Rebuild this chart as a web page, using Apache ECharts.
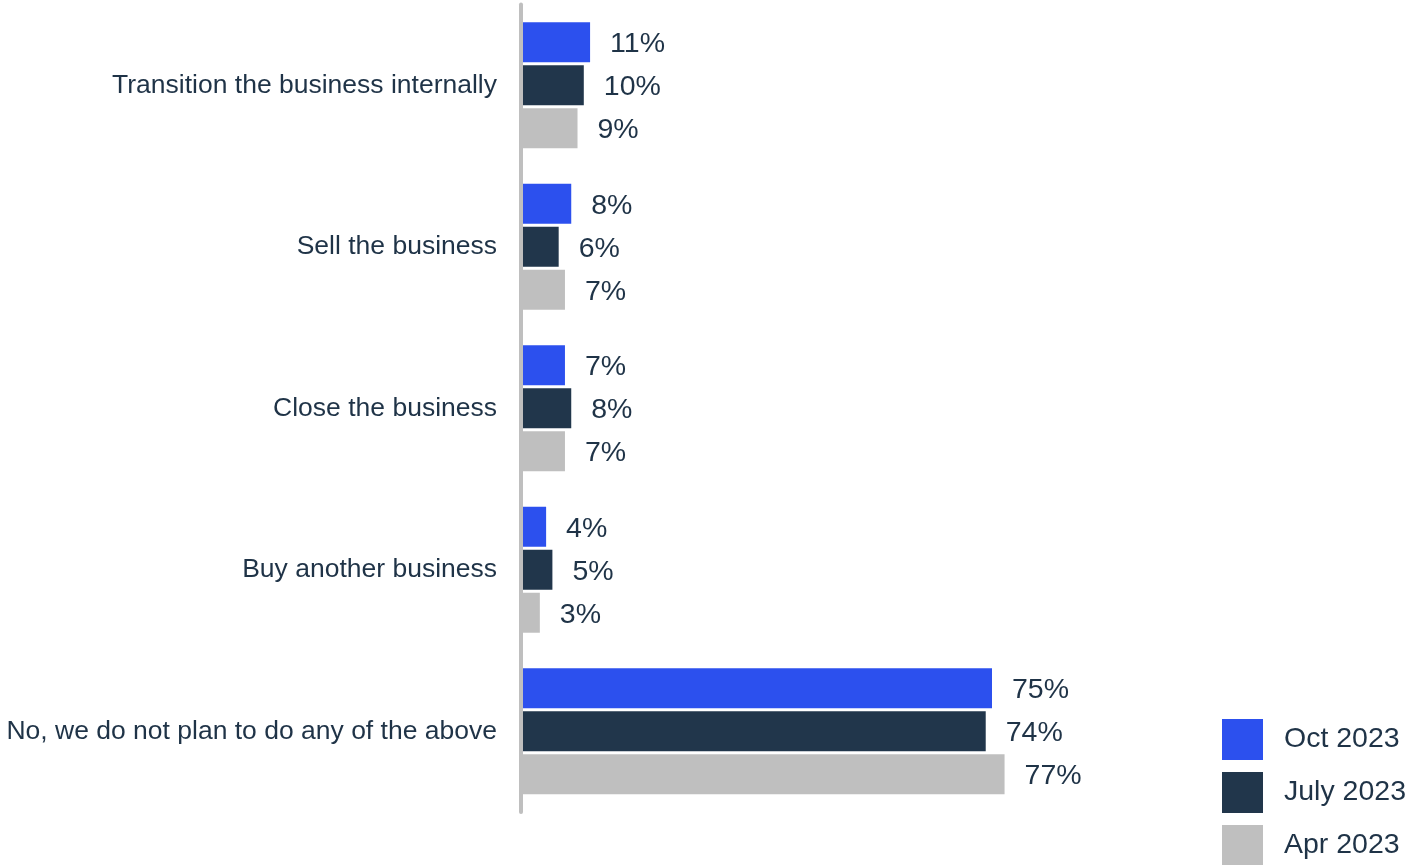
<!DOCTYPE html>
<html>
<head>
<meta charset="utf-8">
<script src="https://cdn.jsdelivr.net/npm/echarts@6/dist/echarts.min.js"></script>
<style>
  html, body { margin: 0; padding: 0; background: #ffffff; }
  #chart { width: 1406px; height: 865px; }
</style>
</head>
<body>
<div id="chart"></div>
<script>
// Plans for the business over the next period, by survey wave (percent of respondents)
const categories = [
  'Transition the business internally',
  'Sell the business',
  'Close the business',
  'Buy another business',
  'No, we do not plan to do any of the above'
];
const seriesNames = ['Oct 2023', 'July 2023', 'Apr 2023'];
const oct2023 = [11, 8, 7, 4, 75];
const july2023 = [10, 6, 8, 5, 74];
const apr2023 = [9, 7, 7, 3, 77];

const colors = ['#2c50ee', '#21364b', '#bfbfbf'];
const textColor = '#1f3347';
const fontFamily = '"Liberation Sans", Arial, Helvetica, sans-serif';

const chart = echarts.init(document.getElementById('chart'));

function barSeries(name, data, color) {
  return {
    name: name,
    type: 'bar',
    data: data,
    barCategoryGap: '22%',
    barGap: '7.5%',
    itemStyle: { color: color },
    label: {
      show: true,
      position: 'right',
      distance: 20,
      offset: [0, 2],
      formatter: '{c}%',
      color: textColor,
      fontSize: 28.5,
      fontFamily: fontFamily
    }
  };
}

chart.setOption({
  animation: false,
  backgroundColor: '#ffffff',
  color: colors,
  grid: { left: 521, right: 257, top: 4.5, bottom: 53, containLabel: false },
  xAxis: {
    type: 'value',
    min: 0,
    max: 100,
    show: false
  },
  yAxis: {
    type: 'category',
    data: categories,
    inverse: true,
    z: 5,
    axisLine: { show: true, lineStyle: { color: '#bfbfbf', width: 4 } },
    axisTick: { show: false },
    splitLine: { show: false },
    axisLabel: {
      color: textColor,
      fontSize: 26.5,
      fontFamily: fontFamily,
      margin: 24
    }
  },
  legend: {
    orient: 'vertical',
    left: 1222,
    top: 719,
    height: 200,
    padding: 0,
    itemWidth: 41,
    itemHeight: 41,
    itemGap: 12,
    icon: 'rect',
    data: seriesNames,
    textStyle: {
      color: textColor,
      fontSize: 28.5,
      fontFamily: fontFamily,
      padding: [0, 0, 0, 16]
    }
  },
  series: [
    barSeries(seriesNames[0], oct2023, colors[0]),
    barSeries(seriesNames[1], july2023, colors[1]),
    barSeries(seriesNames[2], apr2023, colors[2])
  ]
});
</script>
</body>
</html>
